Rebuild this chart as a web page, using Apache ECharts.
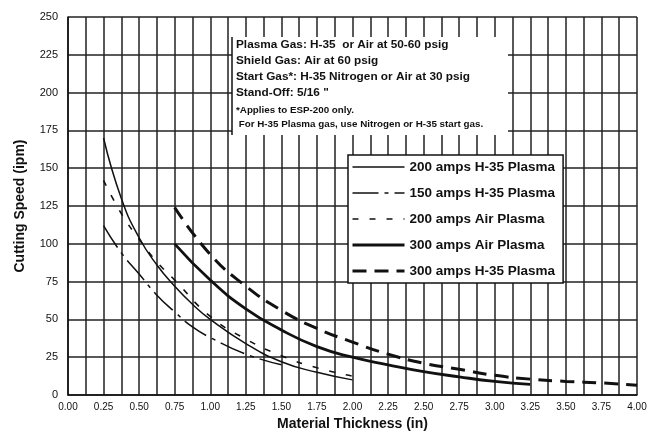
<!DOCTYPE html>
<html>
<head>
<meta charset="utf-8">
<script src="https://cdn.jsdelivr.net/npm/echarts@6/dist/echarts.min.js"></script>
<style>
  html, body { margin: 0; padding: 0; background: #fff; }
  #chart { width: 652px; height: 436px; }
</style>
</head>
<body>
<div id="chart"></div>
<script>
// values
const seriesNames = [
  '200 amps H-35 Plasma',
  '150 amps H-35 Plasma',
  '200 amps Air Plasma',
  '300 amps Air Plasma',
  '300 amps H-35 Plasma'
];

const h35_200_x = [0.25, 0.375, 0.5, 0.625, 0.75, 0.875, 1.0, 1.25, 1.5, 1.75, 2.0];
const h35_200_y = [170, 130, 104, 86, 72, 60, 50, 34, 22, 15, 10];

const h35_150_x = [0.25, 0.375, 0.5, 0.625, 0.75, 0.875, 1.0, 1.25, 1.5];
const h35_150_y = [112, 94, 80, 66, 55, 45, 38, 27, 20];

const air_200_x = [0.25, 0.375, 0.5, 0.625, 0.75, 1.0, 1.25, 1.5, 1.75, 2.0];
const air_200_y = [142, 120, 103, 88, 76, 52, 37, 26, 18, 12.5];

const air_300_x = [0.75, 1.0, 1.25, 1.5, 1.75, 2.0, 2.25, 2.5, 2.75, 3.0, 3.25];
const air_300_y = [100, 76, 57, 43, 32, 25, 20, 15.5, 12, 9, 7];

const h35_300_x = [0.75, 1.0, 1.25, 1.5, 1.75, 2.0, 2.25, 2.5, 2.75, 3.0, 3.25, 3.5, 3.75, 4.0];
const h35_300_y = [124, 93, 72, 56, 44, 35, 27, 21, 17, 13, 10.5, 9, 8, 6.5];

const noteLines = [
  'Plasma Gas: H-35  or Air at 50-60 psig',
  'Shield Gas: Air at 60 psig',
  'Start Gas*: H-35 Nitrogen or Air at 30 psig',
  'Stand-Off: 5/16 "'
];
const footLines = [
  '*Applies to ESP-200 only.',
  ' For H-35 Plasma gas, use Nitrogen or H-35 start gas.'
];

function pairs(xs, ys) {
  return xs.map((x, i) => [x, ys[i]]);
}

const chart = echarts.init(document.getElementById('chart'), null, {renderer: 'canvas'});

const lineDefs = [
  {x: h35_200_x, y: h35_200_y, width: 1.5, type: 'solid'},
  {x: h35_150_x, y: h35_150_y, width: 1.5, type: [26, 6, 4, 6]},
  {x: air_200_x, y: air_200_y, width: 1.6, type: [6, 11]},
  {x: air_300_x, y: air_300_y, width: 2.8, type: 'solid'},
  {x: h35_300_x, y: h35_300_y, width: 3, type: [14, 8]}
];

const fontFam = 'Liberation Sans, Arial, sans-serif';

let option = {
  backgroundColor: '#fff',
  animation: false,
  textStyle: {fontFamily: fontFam},
  grid: {left: 68, right: 15, top: 17, bottom: 40},
  xAxis: {
    type: 'value',
    min: 0, max: 4, interval: 0.25,
    name: 'Material Thickness (in)',
    nameLocation: 'middle',
    nameGap: 22,
    nameTextStyle: {fontSize: 14, fontWeight: 'bold', color: '#111'},
    axisLine: {lineStyle: {color: '#111', width: 1.5}},
    axisTick: {show: false},
    axisLabel: {fontSize: 10, color: '#111', margin: 7,
      formatter: v => v.toFixed(2)},
    splitLine: {lineStyle: {color: '#222', width: 1.5}},
    minorTick: {show: false, splitNumber: 2},
    minorSplitLine: {show: true, lineStyle: {color: '#222', width: 1.5}}
  },
  yAxis: {
    type: 'value',
    min: 0, max: 250, interval: 25,
    name: 'Cutting Speed (ipm)',
    nameLocation: 'middle',
    nameGap: 41,
    nameTextStyle: {fontSize: 14, fontWeight: 'bold', color: '#111'},
    axisLine: {show: true, lineStyle: {color: '#111', width: 1.5}},
    axisTick: {show: false},
    axisLabel: {fontSize: 11, color: '#111', margin: 10},
    splitLine: {lineStyle: {color: '#222', width: 1.5}}
  },
  legend: {
    data: seriesNames.map((n, i) => ({
      name: n,
      lineStyle: {width: lineDefs[i].width, type: lineDefs[i].type, color: '#111'}
    })),
    orient: 'vertical',
    left: 348, top: 155,
    itemWidth: 52, itemHeight: 14, itemGap: 12,
    itemStyle: {opacity: 0},
    padding: [5, 8, 5, 3],
    backgroundColor: '#fff',
    borderColor: '#111', borderWidth: 1.5,
    textStyle: {fontSize: 13.5, fontWeight: 'bold', color: '#111'}
  },
  graphic: [
    {
      type: 'rect', left: 232, top: 37, z: 100,
      shape: {width: 276, height: 98},
      style: {fill: '#fff', stroke: null}
    },
    {
      type: 'line', z: 101,
      shape: {x1: 232, y1: 37, x2: 232, y2: 135},
      style: {stroke: '#111', lineWidth: 1.5}
    }
  ].concat(noteLines.map((t, i) => ({
    type: 'text', left: 236, top: 39 + i * 16, z: 102,
    style: {text: t, fontSize: 11.8, fontWeight: 'bold', fontFamily: fontFam, fill: '#111'}
  }))).concat(footLines.map((t, i) => ({
    type: 'text', left: 236, top: 105 + i * 14, z: 102,
    style: {text: t, fontSize: 9.8, fontWeight: 'bold', fontFamily: fontFam, fill: '#111'}
  }))),
  series: lineDefs.map((d, i) => ({
    name: seriesNames[i],
    type: 'line',
    smooth: true,
    symbol: 'none',
    data: pairs(d.x, d.y),
    itemStyle: {color: '#111'},
    lineStyle: {color: '#111', width: d.width, type: d.type}
  }))
};

chart.setOption(option);
</script>
</body>
</html>
